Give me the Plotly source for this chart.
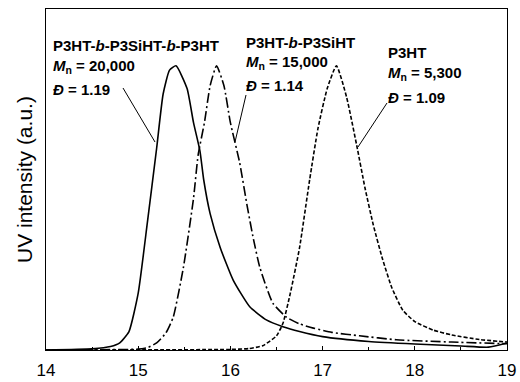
import plotly.graph_objects as go

# Elution volume / time (x) and normalized UV intensity (y)
tri_x = [14.0, 14.5, 14.7, 14.8, 14.9, 15.0, 15.1, 15.2, 15.27, 15.34, 15.41, 15.53, 15.6,
         15.67, 15.71, 15.78, 15.89, 16.03, 16.21, 16.39, 16.57, 16.75, 17.0, 17.5, 18.0, 18.5,
         18.8, 19.0]
tri_y = [0.0, 0.004, 0.012, 0.025, 0.065, 0.2, 0.45, 0.71, 0.9, 0.985, 1.0, 0.92, 0.80,
         0.70, 0.60, 0.48, 0.36, 0.246, 0.152, 0.106, 0.082, 0.065, 0.047, 0.03, 0.021, 0.014,
         0.01, 0.025]

di_x = [14.0, 15.0, 15.1, 15.2, 15.3, 15.38, 15.49, 15.6, 15.65, 15.72, 15.78, 15.85, 15.93,
        16.0, 16.1, 16.18, 16.25, 16.32, 16.46, 16.61, 16.75, 16.9, 17.1, 17.4, 17.8, 18.4, 19.0]
di_y = [0.0, 0.003, 0.008, 0.025, 0.06, 0.116, 0.29, 0.534, 0.686, 0.803, 0.93, 1.0, 0.93,
        0.8, 0.66, 0.51, 0.39, 0.29, 0.165, 0.115, 0.092, 0.077, 0.062, 0.05, 0.036, 0.028, 0.022]

homo_x = [14.0, 16.0, 16.2, 16.35, 16.5, 16.57, 16.65, 16.75, 16.86, 16.95, 17.05, 17.15, 17.26,
          17.37, 17.46, 17.55, 17.65, 17.75, 17.87, 18.0, 18.2, 18.4, 18.7, 19.0]
homo_y = [0.0, 0.002, 0.005, 0.015, 0.05, 0.094, 0.2, 0.36, 0.6, 0.78, 0.92, 1.0, 0.89,
          0.72, 0.57, 0.44, 0.32, 0.22, 0.14, 0.1, 0.07, 0.053, 0.037, 0.028]

x_ticks = [14, 15, 16, 17, 18, 19]

labels = [
    ["P3HT-<i>b</i>-P3SiHT-<i>b</i>-P3HT", "<i>M</i><sub>n</sub> = 20,000", "<i>Đ</i> = 1.19"],
    ["P3HT-<i>b</i>-P3SiHT", "<i>M</i><sub>n</sub> = 15,000", "<i>Đ</i> = 1.14"],
    ["P3HT", "<i>M</i><sub>n</sub> = 5,300", "<i>Đ</i> = 1.09"],
]

fig = go.Figure()
fig.add_trace(go.Scatter(x=tri_x, y=tri_y, mode="lines",
                         line=dict(color="black", width=1.6, shape="spline", smoothing=0.5)))
fig.add_trace(go.Scatter(x=di_x, y=di_y, mode="lines",
                         line=dict(color="black", width=1.6, shape="spline", smoothing=0.5,
                                   dash="10px,3px,2px,3px")))
fig.add_trace(go.Scatter(x=homo_x, y=homo_y, mode="lines",
                         line=dict(color="black", width=1.6, shape="spline", smoothing=0.5,
                                   dash="4px,2px")))

W, H = 520, 382
L, R, T, B = 46, 13, 9, 32
pw, ph = W - L - R, H - T - B


def px(xp):
    return (xp - L) / pw


def py(yp):
    return (H - B - yp) / ph


# text blocks: left x pixel, line y pixels
blocks = [(51, [45, 67, 89]), (244, [42, 63, 85]), (386, [52, 73, 97])]
font = dict(family="Liberation Sans, Arial", size=15, color="black")
for (bx, ys), lines in zip(blocks, labels):
    for yy, txt in zip(ys, lines):
        fig.add_annotation(x=px(bx), y=py(yy), xref="paper", yref="paper", text="<b>" + txt + "</b>",
                           showarrow=False, xanchor="left", yanchor="middle", font=font)

leaders = [((123, 88), (155, 142)), ((246, 95), (235, 142)), ((387, 103), (358, 147))]
for (x0, y0), (x1, y1) in leaders:
    fig.add_shape(type="line", xref="paper", yref="paper", x0=px(x0), y0=py(y0), x1=px(x1), y1=py(y1),
                  line=dict(color="black", width=1))

fig.add_annotation(x=px(24), y=py(180), xref="paper", yref="paper", text="UV intensity (a.u.)",
                   textangle=-90, showarrow=False, xanchor="center", yanchor="middle",
                   font=dict(family="Liberation Sans, Arial", size=21, color="black"))

fig.update_layout(
    width=W, height=H, margin=dict(l=L, r=R, t=T, b=B, autoexpand=False),
    paper_bgcolor="white", plot_bgcolor="white", showlegend=False,
    xaxis=dict(range=[14, 19], tickvals=x_ticks, ticks="inside", ticklen=4, tickcolor="black",
               showline=True, linecolor="black", linewidth=1, mirror=True, showgrid=False,
               zeroline=False, ticklabelstandoff=5, automargin=False,
               minor=dict(ticks="inside", dtick=0.5, ticklen=3, tickcolor="black"),
               tickfont=dict(family="Liberation Sans, Arial", size=17, color="black")),
    yaxis=dict(range=[0, 1.2], showticklabels=False, ticks="", showline=True, linecolor="black",
               linewidth=1, mirror=True, showgrid=False, zeroline=False, automargin=False),
)

fig.write_html("out.html")
